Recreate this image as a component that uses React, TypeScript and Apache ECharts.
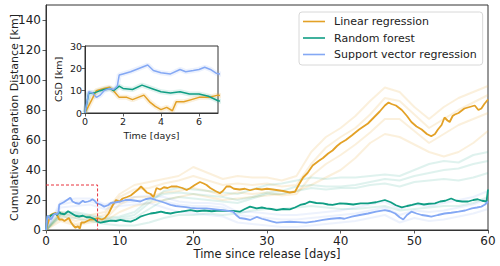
import React, { useEffect, useRef } from "react";
import * as echarts from "echarts";

// ---- Data ----
const seriesNames = ["Linear regression", "Random forest", "Support vector regression"];
const xTicks = [0, 10, 20, 30, 40, 50, 60];
const yTicks = [0, 20, 40, 60, 80, 100, 120, 140];
const insetXTicks = [0, 2, 4, 6];
const insetYTicks = [0, 10, 20, 30];
const zoomBox: [number, number][] = [[0, 30], [7, 30], [7, 0]];

const lrMain: [number, number][] = [
  [0, 0], [0.3, 5], [0.6, 10], [1, 11], [1.3, 11.5], [1.5, 10], [1.8, 7], [2.2, 7], [2.5, 6], [2.8, 7],
  [3.1, 8], [3.4, 5], [3.7, 3], [4, 1.5], [4.3, 2.5], [4.6, 1], [4.8, 5], [5.2, 5], [5.6, 6], [6, 7],
  [6.5, 7], [7, 8], [7.6, 7], [8, 8], [8.5, 11], [9, 16], [9.5, 20], [10, 19], [10.4, 21], [11, 22],
  [11.5, 23], [12, 25], [12.5, 27], [12.9, 29], [13.3, 27], [13.7, 25], [14.2, 24], [14.6, 22], [15, 28],
  [15.5, 27], [16, 28.5], [16.5, 28], [17, 29], [17.8, 29], [18.5, 28], [19.1, 26.7], [19.6, 28], [20.2, 30],
  [20.9, 32], [21.4, 31], [21.8, 30], [22.3, 28], [23, 26], [23.6, 24.5], [24, 26], [24.5, 29], [25, 29],
  [25.5, 27.5], [26.3, 27], [27, 27.5], [27.7, 26.5], [28.5, 27.5], [29.3, 27], [30, 27.5], [30.8, 27],
  [31.5, 26.5], [32.2, 26], [33.1, 25], [33.8, 25.5], [34.3, 30], [34.9, 35], [35.5, 38], [36.2, 43],
  [37, 46], [37.6, 48], [38.3, 51], [38.9, 53], [39.5, 56], [40, 58], [40.7, 60], [41.5, 63], [42.5, 67],
  [43.7, 71], [44.5, 75], [45.3, 79], [46, 83], [46.5, 85], [46.9, 84], [47.5, 83], [48.3, 80], [49, 76],
  [49.6, 72], [50.3, 69], [51, 67], [51.7, 64], [52.3, 62.5], [52.8, 64], [53.2, 67], [53.7, 70], [54.1, 75],
  [54.5, 73], [54.8, 72], [55.2, 76], [55.5, 77], [56, 78], [56.8, 81], [57.5, 82], [58.2, 83], [58.7, 80],
  [59.1, 81], [59.5, 84], [60, 87],
];

const rfMain: [number, number][] = [
  [0, 0], [0.2, 9], [0.5, 9], [0.8, 10], [1, 10.5], [1.3, 11], [1.5, 10], [1.8, 12], [2, 11], [2.5, 10.5],
  [3, 12.5], [3.5, 11], [4, 9.5], [4.5, 9], [5, 9.5], [5.5, 8.5], [6, 8.5], [6.5, 7.5], [7, 5.5], [7.4, 4.9],
  [8, 5.5], [8.8, 6.2], [9.5, 6], [10.1, 6.7], [10.8, 6], [11.5, 5.6], [12.2, 7], [12.8, 8.9], [13.5, 10],
  [14.2, 11], [14.9, 11.5], [15.6, 12.2], [16.2, 11.5], [16.9, 11], [17.6, 11.8], [18.3, 12.2], [19, 12.8],
  [19.6, 13.3], [20.5, 12.5], [21.5, 13], [22.5, 12.5], [23.5, 13], [24.5, 12.7], [25.4, 12.7], [26.3, 12.2],
  [27, 14], [27.7, 15.6], [28.6, 14.4], [29.3, 15], [29.9, 14.4], [30.6, 14], [31.3, 13.3], [32.2, 14],
  [33.1, 13.7], [33.8, 15], [34.5, 16.7], [35.2, 17.5], [35.8, 18.9], [36.7, 18], [37.6, 17.8], [38.3, 17],
  [38.9, 16.7], [39.9, 17.8], [40.8, 17.5], [41.7, 17], [42.7, 17.8], [43.7, 17.8], [44.8, 18.5], [46, 20],
  [46.8, 18.5], [47.5, 16.5], [48.3, 15.1], [49, 16], [49.7, 16.8], [50.5, 17.8], [51.3, 17], [52, 17.5],
  [52.8, 17.8], [53.5, 19], [54.2, 19.5], [55, 21], [55.7, 19.5], [56.5, 19], [57.3, 19], [58, 20],
  [58.6, 20.5], [59.2, 19.5], [59.8, 19], [60, 27],
];

const svrMain: [number, number][] = [
  [0, 0], [0.2, 9.5], [0.4, 9], [0.6, 7], [0.8, 8], [1, 10], [1.3, 11], [1.5, 10.5], [1.7, 12], [1.8, 17],
  [2, 17.5], [2.4, 18.5], [2.7, 19.5], [3, 20.5], [3.3, 21.5], [3.6, 19], [4, 18], [4.5, 17.5], [5, 19.5],
  [5.3, 18.5], [5.7, 19], [6, 19.5], [6.3, 20.5], [6.6, 19.5], [6.9, 17.8], [7.4, 17], [7.9, 15.6],
  [8.4, 16.5], [8.8, 18], [9.5, 18.5], [10.1, 19], [10.8, 20], [11.5, 20], [12.2, 19.5], [12.8, 19],
  [13.5, 20.5], [14.2, 21.3], [14.9, 20], [15.6, 19], [16.2, 18], [16.9, 16.7], [17.6, 16], [18.3, 15.6],
  [19, 15.2], [19.6, 14.8], [20.5, 14.4], [21.8, 14.4], [23, 13.8], [24, 13.3], [25.4, 12.2], [25.8, 10],
  [26.3, 8], [27, 7.5], [27.7, 6.7], [28.6, 8.7], [29.3, 7.5], [29.9, 6.7], [30.6, 5.8], [31.3, 4.9],
  [32.2, 5.3], [33.1, 5.5], [34.2, 5.2], [35.3, 4.9], [36.5, 5.8], [37.6, 6.7], [38.7, 7.5], [39.9, 8],
  [40.5, 7.5], [41.5, 8.9], [42.6, 10], [43.7, 11], [44.8, 12.2], [46, 13.3], [46.7, 12.5], [47.4, 11],
  [48, 8.5], [48.5, 7], [49, 10], [49.6, 12.2], [50.3, 11], [51, 10], [51.7, 9.5], [52.3, 8.9], [53.2, 10],
  [54.1, 11], [55, 11.5], [56, 12.2], [56.9, 13], [57.8, 14.4], [58.5, 15], [59.1, 15.6], [59.6, 17], [60, 19],
];

// Individual ensemble runs (faint), sampled every 2 days
const runDays = [0, 2, 4, 6, 8, 10, 12, 14, 16, 18, 20, 22, 24, 26, 28, 30, 32, 34, 36, 38, 40, 42, 44, 46, 48, 50, 52, 54, 56, 58, 60];
const lrRun1 = [0, 12, 8, 10, 12, 24, 30, 32, 34, 36, 42, 38, 34, 36, 35, 35, 33, 36, 52, 62, 68, 76, 86, 95, 92, 82, 74, 82, 88, 92, 96];
const lrRun2 = [0, 8, 4, 6, 7, 17, 22, 22, 25, 26, 28, 26, 23, 25, 24, 25, 23, 24, 36, 44, 50, 57, 65, 74, 74, 66, 58, 64, 70, 74, 78];
const lrRun3 = [0, 6, 3, 5, 6, 12, 16, 18, 20, 22, 24, 22, 20, 21, 22, 23, 24, 26, 30, 35, 40, 48, 58, 64, 62, 57, 52, 49, 52, 58, 66];
const lrRun4 = [0, 10, 6, 8, 10, 22, 27, 28, 31, 33, 36, 33, 30, 31, 30, 31, 29, 30, 44, 55, 62, 68, 77, 88, 86, 77, 68, 74, 80, 85, 90];
const rfRun1 = [0, 11, 11, 9, 7, 8, 10, 18, 26, 28, 27, 26, 25, 24, 27, 30, 31, 33, 35, 34, 35, 35, 36, 37, 36, 40, 44, 46, 45, 50, 52];
const rfRun2 = [0, 10, 10, 8, 6, 7, 8, 14, 20, 22, 21, 20, 19, 18, 21, 24, 24, 26, 28, 27, 28, 28, 30, 31, 29, 32, 33, 34, 33, 35, 38];
const rfRun3 = [0, 9, 8, 6, 4, 3, 3, 5, 8, 10, 10, 11, 10, 11, 13, 14, 14, 15, 16, 15, 14, 14, 15, 16, 13, 14, 15, 16, 16, 18, 22];
const rfRun4 = [0, 12, 12, 10, 8, 9, 12, 20, 24, 25, 24, 23, 22, 20, 22, 25, 26, 29, 30, 29, 29, 30, 32, 34, 33, 36, 38, 40, 41, 44, 46];
const svrRun1 = [0, 19, 21, 21, 17, 20, 22, 23, 22, 19, 18, 18, 17, 12, 12, 11, 10, 10, 11, 12, 13, 15, 17, 19, 14, 17, 16, 18, 20, 22, 26];
const svrRun2 = [0, 15, 16, 17, 14, 16, 17, 18, 15, 12, 11, 10, 9, 5, 4, 3, 2, 2, 3, 4, 5, 6, 8, 10, 5, 8, 6, 7, 9, 11, 14];
const svrRun3 = [0, 17, 19, 19, 16, 18, 19, 21, 19, 17, 16, 16, 15, 10, 9, 8, 7, 7, 8, 9, 10, 11, 13, 15, 10, 13, 12, 13, 15, 17, 21];

const colors = ["#E3A126", "#109E84", "#84A8F4"];
const faintColors = ["rgba(232,170,60,0.18)", "rgba(40,170,140,0.15)", "rgba(132,168,244,0.15)"];

function pairs(values: number[]): [number, number][] {
  return runDays.map((d, i) => [d, values[i]]);
}

export default function App() {
  const ref = useRef<HTMLDivElement>(null);
  useEffect(() => {
    document.body.style.margin = "0";
    if (!ref.current) return;
    const chart = echarts.init(ref.current, null, { renderer: "svg" });
    const font = "DejaVu Sans";
    const runs = [
      [lrRun1, lrRun2, lrRun3, lrRun4],
      [rfRun1, rfRun2, rfRun3, rfRun4],
      [svrRun1, svrRun2, svrRun3],
    ];
    const mains = [lrMain, rfMain, svrMain];
    const series: any[] = [];
    runs.forEach((group, gi) => {
      group.forEach((r, ri) => {
        series.push({
          name: `run-${gi}-${ri}`,
          type: "line",
          xAxisIndex: 0,
          yAxisIndex: 0,
          data: pairs(r),
          symbol: "none",
          lineStyle: { color: faintColors[gi], width: 2 },
          z: 1,
          silent: true,
        });
      });
    });
    mains.forEach((m, i) => {
      series.push({
        name: seriesNames[i],
        type: "line",
        xAxisIndex: 0,
        yAxisIndex: 0,
        data: m,
        symbol: "none",
        lineStyle: { color: colors[i], width: 1.8 },
        itemStyle: { color: colors[i] },
        z: 3,
      });
    });
    series.push({
      name: "zoom-box",
      type: "line",
      xAxisIndex: 0,
      yAxisIndex: 0,
      data: zoomBox,
      symbol: "none",
      lineStyle: { color: "#E8323C", width: 1, type: [3, 2] },
      z: 4,
    });
    // inset
    mains.forEach((m, i) => {
      const part = m.filter((p) => p[0] <= 8);
      series.push({
        name: `inset-band-${i}`,
        type: "line",
        xAxisIndex: 1,
        yAxisIndex: 1,
        data: part,
        symbol: "none",
        lineStyle: { color: faintColors[i], width: 5 },
        z: 6,
      });
      series.push({
        name: `inset-${i}`,
        type: "line",
        xAxisIndex: 1,
        yAxisIndex: 1,
        data: part,
        symbol: "none",
        lineStyle: { color: colors[i], width: 1.5 },
        z: 7,
      });
    });

    const tickStyle = { show: true, inside: false, length: 3.5, lineStyle: { color: "#333", width: 0.8 } };
    chart.setOption({
      animation: false,
      textStyle: { fontFamily: font },
      grid: [
        { left: 46, right: 12, top: 5, bottom: 36, containLabel: false, outerBoundsMode: "none", show: true, borderColor: "#333", borderWidth: 1, backgroundColor: "transparent" },
        { left: 85, top: 46, width: 133, height: 67, containLabel: false, outerBoundsMode: "none", show: true, borderColor: "#333", borderWidth: 1, backgroundColor: "#fff", z: 5 },
      ],
      xAxis: [
        {
          type: "value", gridIndex: 0, min: 0, max: 60, interval: 10,
          axisLine: { show: true, lineStyle: { color: "#333", width: 1 } },
          axisTick: { ...tickStyle, customValues: xTicks },
          axisLabel: { fontSize: 12, color: "#222", margin: 5, fontFamily: font, customValues: xTicks },
          splitLine: { show: false },
          name: "Time since release [days]", nameLocation: "middle", nameGap: 18, nameMoveOverlap: false,
          nameTextStyle: { fontSize: 11.5, color: "#222", fontFamily: font },
        },
        {
          type: "value", gridIndex: 1, min: 0, max: 7, interval: 2,
          axisLine: { show: true, lineStyle: { color: "#333", width: 1 } },
          axisTick: { ...tickStyle, customValues: insetXTicks },
          axisLabel: { fontSize: 9.5, color: "#222", margin: 3, fontFamily: font, customValues: insetXTicks },
          splitLine: { show: false },
          name: "Time [days]", nameLocation: "middle", nameGap: 17, nameMoveOverlap: false,
          nameTextStyle: { fontSize: 9.5, color: "#222", fontFamily: font },
          z: 6,
        },
      ],
      yAxis: [
        {
          type: "value", gridIndex: 0, min: 0, max: 150, interval: 20,
          axisLine: { show: true, lineStyle: { color: "#333", width: 1 } },
          axisTick: { ...tickStyle, customValues: yTicks },
          axisLabel: { fontSize: 12, color: "#222", margin: 5, fontFamily: font, customValues: yTicks },
          splitLine: { show: false },
          name: "Cumulative Separation Distance [km]", nameLocation: "middle", nameGap: 26, nameMoveOverlap: false,
          nameTextStyle: { fontSize: 11, color: "#222", fontFamily: font },
        },
        {
          type: "value", gridIndex: 1, min: 0, max: 30, interval: 10,
          axisLine: { show: true, lineStyle: { color: "#333", width: 1 } },
          axisTick: { ...tickStyle, customValues: insetYTicks },
          axisLabel: { fontSize: 9.5, color: "#222", margin: 3, fontFamily: font, customValues: insetYTicks },
          splitLine: { show: false },
          name: "CSD [km]", nameLocation: "middle", nameGap: 22, nameMoveOverlap: false,
          nameTextStyle: { fontSize: 9.5, color: "#222", fontFamily: font },
          z: 6,
        },
      ],
      legend: {
        data: seriesNames.map((n) => ({ name: n, icon: "rect" })),
        orient: "vertical",
        left: 299,
        top: 12,
        itemWidth: 22,
        itemHeight: 1.6,
        itemGap: 3.5,
        padding: [3, 6, 4, 4],
        backgroundColor: "rgba(255,255,255,0.85)",
        borderColor: "#d8d8d8",
        borderWidth: 1,
        borderRadius: 3,
        selectedMode: false,
        textStyle: { fontSize: 11, color: "#222", fontFamily: font, lineHeight: 13, padding: [0, 0, 0, 4] },
      },
      series,
    });
    return () => chart.dispose();
  }, []);
  return <div ref={ref} style={{ width: 500, height: 266 }} />;
}
